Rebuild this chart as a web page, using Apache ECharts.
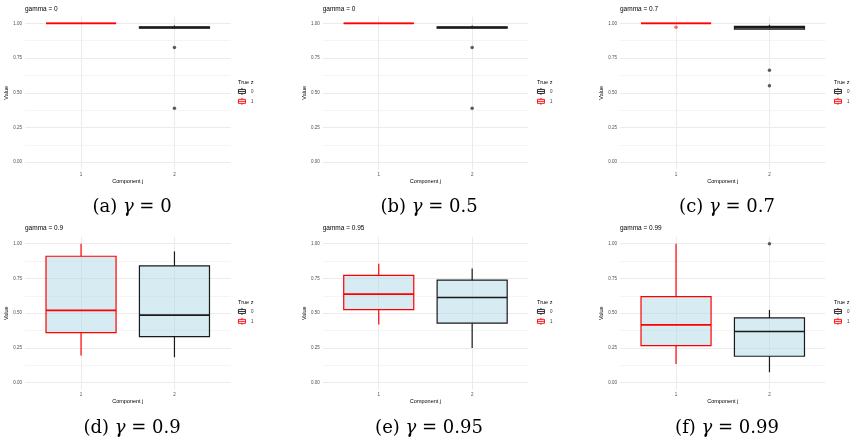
<!DOCTYPE html>
<html>
<head>
<meta charset="utf-8">
<script src="https://cdn.jsdelivr.net/npm/echarts@6/dist/echarts.min.js"></script>
<style>
  html, body { margin: 0; padding: 0; background: #fff; }
  #chart { width: 856px; height: 445px; }
</style>
</head>
<body>
<div id="chart"></div>
<script>
// ---- data ----
var panelTitles = ['gamma = 0', 'gamma = 0', 'gamma = 0.7', 'gamma = 0.9', 'gamma = 0.95', 'gamma = 0.99'];
var captionTags = ['a', 'b', 'c', 'd', 'e', 'f'];
var captionGammas = ['0', '0.5', '0.7', '0.9', '0.95', '0.99'];
var zLevels = ['0', '1'];
var components = [1, 2];
var yTicks = [0, 0.25, 0.5, 0.75, 1];
var yMinorTicks = [0.125, 0.375, 0.625, 0.875];

// [min, Q1, median, Q3, max]; true z = 1 sits at component 1
var boxZ1 = [
  [1, 1, 1, 1, 1],
  [1, 1, 1, 1, 1],
  [1, 1, 1, 1, 1],
  [0.195, 0.36, 0.52, 0.91, 1.0],
  [0.418, 0.526, 0.637, 0.772, 0.856],
  [0.135, 0.267, 0.416, 0.62, 1.0]
];
// true z = 0 sits at component 2
var boxZ0 = [
  [0.963, 0.965, 0.970, 0.975, 0.985],
  [0.963, 0.965, 0.970, 0.975, 0.985],
  [0.955, 0.958, 0.968, 0.978, 0.99],
  [0.183, 0.332, 0.486, 0.841, 0.945],
  [0.25, 0.428, 0.613, 0.738, 0.822],
  [0.075, 0.19, 0.368, 0.466, 0.524]
];
var outZ1 = [[], [], [0.972], [], [], []];
var outZ0 = [[0.827, 0.388], [0.827, 0.388], [0.662, 0.551], [], [], [1.0]];

// ---- layout ----
var gridLeft = [25, 322.7, 620];
var gridTop = [16.4, 236.8];
var gridW = 205.5, gridH = 152.8;
var legendLeft = [238, 537, 834];
var captionX = [132, 429, 727];
var captionY = [207, 428];

var red = '#ff0000', black = '#1a1a1a';
var boxFill = 'rgba(173,216,230,0.5)';
var sans = 'Liberation Sans';

function boxRenderer(stroke) {
  return function (params, api) {
    var x = api.value(0);
    var lo = api.coord([x, api.value(1)]);
    var q1 = api.coord([x, api.value(2)]);
    var md = api.coord([x, api.value(3)]);
    var q3 = api.coord([x, api.value(4)]);
    var hi = api.coord([x, api.value(5)]);
    var w = api.size([0.75, 0])[0];
    var l = md[0] - w / 2;
    return {
      type: 'group',
      children: [
        { type: 'line', shape: { x1: lo[0], y1: lo[1], x2: q1[0], y2: q1[1] }, style: { stroke: stroke, lineWidth: 1.2 } },
        { type: 'line', shape: { x1: q3[0], y1: q3[1], x2: hi[0], y2: hi[1] }, style: { stroke: stroke, lineWidth: 1.2 } },
        { type: 'rect', shape: { x: l, y: q3[1], width: w, height: q1[1] - q3[1] }, style: { fill: boxFill, stroke: stroke, lineWidth: 1.2 } },
        { type: 'line', shape: { x1: l, y1: md[1], x2: l + w, y2: md[1] }, style: { stroke: stroke, lineWidth: 1.6 } }
      ]
    };
  };
}

// little boxplot glyph for the legend keys
var keyIcon = 'path://M4,0L4,1.5M0.5,1.5L7.5,1.5L7.5,5.5L0.5,5.5ZM0.5,3.5L7.5,3.5M4,5.5L4,7';

var grids = [], xAxes = [], yAxes = [], series = [], legends = [], graphics = [];

for (var i = 0; i < 6; i++) {
  var col = i % 3, row = Math.floor(i / 3);
  grids.push({ left: gridLeft[col], top: gridTop[row], width: gridW, height: gridH });

  xAxes.push({
    type: 'value', gridIndex: i, min: 0.4, max: 2.6,
    name: 'Component j', nameLocation: 'middle', nameGap: 9,
    nameTextStyle: { fontFamily: sans, fontSize: 5.5, color: '#000' },
    axisLine: { show: false },
    axisTick: { show: false, customValues: components },
    axisLabel: { customValues: components, fontFamily: sans, fontSize: 4.5, color: '#4d4d4d', margin: 3 },
    splitLine: { show: true, lineStyle: { color: '#ebebeb', width: 1 } }
  });

  yAxes.push({
    type: 'value', gridIndex: i, min: -0.05, max: 1.05,
    name: 'Value', nameLocation: 'middle', nameRotate: 90, nameGap: 13,
    nameTextStyle: { fontFamily: sans, fontSize: 5.5, color: '#000' },
    axisLine: { show: false },
    axisTick: { show: false, customValues: yTicks },
    axisLabel: {
      customValues: yTicks, fontFamily: sans, fontSize: 4.5, color: '#4d4d4d', margin: 3,
      formatter: function (v) { return Number(v).toFixed(2); }
    },
    splitLine: { show: true, lineStyle: { color: '#ebebeb', width: 1 } }
  });
  // minor grid lines
  yAxes.push({
    type: 'value', gridIndex: i, min: -0.05, max: 1.05, position: 'left',
    axisLine: { show: false },
    axisTick: { show: false, customValues: yMinorTicks },
    axisLabel: { show: false },
    splitLine: { show: true, lineStyle: { color: '#f2f2f2', width: 0.8 } }
  });

  series.push({
    name: '0', type: 'custom', xAxisIndex: i, yAxisIndex: 2 * i,
    itemStyle: { color: boxFill, borderColor: black },
    renderItem: boxRenderer(black),
    encode: { x: 0, y: [1, 2, 3, 4, 5] },
    data: [[components[1]].concat(boxZ0[i])], z: 3
  });
  series.push({
    name: '1', type: 'custom', xAxisIndex: i, yAxisIndex: 2 * i,
    itemStyle: { color: boxFill, borderColor: red },
    renderItem: boxRenderer(red),
    encode: { x: 0, y: [1, 2, 3, 4, 5] },
    data: [[components[0]].concat(boxZ1[i])], z: 3
  });
  series.push({
    name: 'out0', type: 'scatter', xAxisIndex: i, yAxisIndex: 2 * i,
    symbolSize: 3.5, itemStyle: { color: '#333' }, z: 4,
    data: outZ0[i].map(function (v) { return [components[1], v]; })
  });
  series.push({
    name: 'out1', type: 'scatter', xAxisIndex: i, yAxisIndex: 2 * i,
    symbolSize: 3.5, itemStyle: { color: red, opacity: 0.6 }, z: 4,
    data: outZ1[i].map(function (v) { return [components[0], v]; })
  });

  legends.push({
    orient: 'vertical', left: legendLeft[col], top: (row === 0 ? 87.5 : 307.5),
    padding: 0, itemGap: 2, itemWidth: 8, itemHeight: 7, selectedMode: false,
    textStyle: { fontFamily: sans, fontSize: 4.5, color: '#333' },
    data: [
      { name: zLevels[0], icon: keyIcon, itemStyle: { color: '#ffffff', borderColor: black, borderWidth: 0.9 } },
      { name: zLevels[1], icon: keyIcon, itemStyle: { color: '#ffffff', borderColor: red, borderWidth: 0.9 } }
    ]
  });

  graphics.push({
    type: 'text', x: gridLeft[col], y: (row === 0 ? 9 : 228.7),
    style: { text: panelTitles[i], font: '6.5px ' + sans, fill: '#000', verticalAlign: 'middle' }
  });
  graphics.push({
    type: 'text', x: legendLeft[col], y: (row === 0 ? 82 : 302),
    style: { text: 'True z', font: '5.5px ' + sans, fill: '#000', verticalAlign: 'middle' }
  });
  graphics.push({
    type: 'text', x: captionX[col], y: captionY[row],
    style: {
      text: '(' + captionTags[i] + ') {g|γ} = ' + captionGammas[i],
      font: '18px "DejaVu Serif"', fill: '#000', align: 'center', verticalAlign: 'middle',
      rich: { g: { fontStyle: 'italic', fontFamily: 'DejaVu Serif', fontSize: 18 } }
    }
  });
}

var myChart = echarts.init(document.getElementById('chart'));
myChart.setOption({
  animation: false,
  backgroundColor: '#fff',
  grid: grids,
  xAxis: xAxes,
  yAxis: yAxes,
  legend: legends,
  series: series,
  graphic: graphics
});
</script>
</body>
</html>
